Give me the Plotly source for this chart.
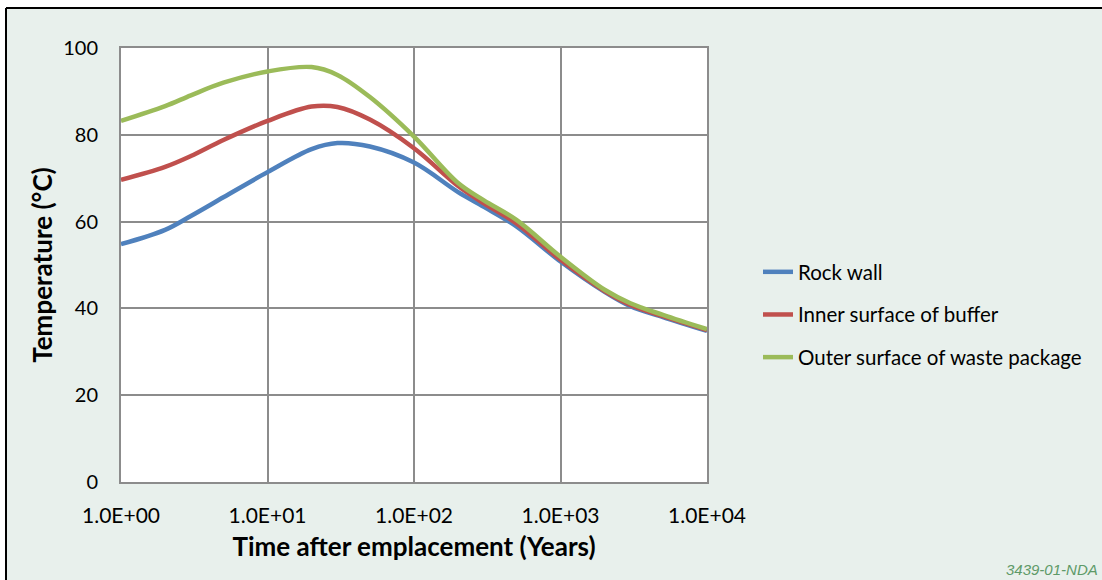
import plotly.graph_objects as go

# Data
time_years = [1, 2, 3, 5, 10, 20, 30, 50, 100, 200, 300, 500, 1000, 2000, 3000, 5000, 10000]
rock_wall = [54.8, 58.1, 61.3, 65.6, 71.4, 76.7, 78.1, 77.3, 73.6, 66.8, 63.4, 58.9, 50.8, 43.8, 40.5, 38.0, 34.8]
inner_buffer = [69.6, 72.6, 75.1, 78.8, 83.2, 86.5, 86.4, 83.5, 76.9, 68.2, 64.2, 59.6, 51.2, 44.0, 40.8, 38.2, 35.0]
outer_package = [83.2, 86.6, 89.1, 92.0, 94.6, 95.6, 93.8, 88.7, 79.6, 68.9, 64.9, 60.4, 51.9, 44.3, 41.2, 38.5, 35.2]

series_names = ["Rock wall", "Inner surface of buffer", "Outer surface of waste package"]
series_colors = ["#4F81BD", "#C0504D", "#9BBB59"]

x_tickvals = [1, 10, 100, 1000, 10000]
x_ticktext = ["1.0E+00", "1.0E+01", "1.0E+02", "1.0E+03", "1.0E+04"]
y_tickvals = [0, 20, 40, 60, 80, 100]

FONT = "Lato, Carlito, Calibri, sans-serif"
W, H = 1102, 580
L, R, T, B = 121, 395, 48, 98
pw, ph = W - L - R, H - T - B

fig = go.Figure()
for name, vals, col in zip(series_names, [rock_wall, inner_buffer, outer_package], series_colors):
    fig.add_trace(go.Scatter(
        x=time_years, y=vals, name=name, mode="lines",
        line=dict(color=col, width=4.5, shape="spline", smoothing=1.0),
        legendgroup=name,
    ))

def px_x(p):
    return (p - L) / pw

def px_y(p):
    return (H - B - p) / ph

shapes = [
    dict(type="rect", xref="paper", yref="paper", x0=px_x(-20), x1=px_x(6), y0=px_y(620), y1=px_y(-20),
         fillcolor="white", line=dict(width=0), layer="below"),
    dict(type="rect", xref="paper", yref="paper", x0=px_x(-20), x1=px_x(1130), y0=px_y(8), y1=px_y(-20),
         fillcolor="white", line=dict(width=0), layer="below"),
    dict(type="line", xref="paper", yref="paper", x0=px_x(6), x1=px_x(6), y0=px_y(8), y1=px_y(620),
         line=dict(color="black", width=2), layer="below"),
    dict(type="line", xref="paper", yref="paper", x0=px_x(6), x1=px_x(1130), y0=px_y(8), y1=px_y(8),
         line=dict(color="black", width=2), layer="below"),
]

fig.update_layout(
    width=W, height=H,
    margin=dict(l=L, r=R, t=T, b=B),
    paper_bgcolor="#E8F0EC",
    plot_bgcolor="white",
    font=dict(family=FONT, size=20, color="black"),
    shapes=shapes,
    showlegend=True,
    legend=dict(
        x=px_x(758), y=px_y(252), xanchor="left", yanchor="top",
        bgcolor="rgba(0,0,0,0)", font=dict(family=FONT, size=20.5, color="black"),
        tracegroupgap=13, itemwidth=30,
    ),
    annotations=[
        dict(text="<i>3439-01-NDA</i>", xref="paper", yref="paper", x=px_x(1100), y=px_y(569),
             xanchor="right", yanchor="middle", showarrow=False,
             font=dict(family="Liberation Sans, Arial, sans-serif", size=15, color="#5E9A68")),
    ],
)

fig.update_xaxes(
    type="log", range=[0, 4],
    tickvals=x_tickvals, ticktext=x_ticktext,
    showgrid=True, gridcolor="#8C8C8C", gridwidth=2,
    showline=True, linecolor="#8C8C8C", linewidth=2, mirror=True,
    ticks="", ticklabelstandoff=14,
    tickfont=dict(family=FONT, size=21),
    title=dict(text="<b>Time after emplacement (Years)</b>", font=dict(family=FONT, size=26), standoff=12),
    zeroline=False,
)
fig.update_yaxes(
    range=[0, 100], tickvals=y_tickvals,
    showgrid=True, gridcolor="#8C8C8C", gridwidth=2,
    showline=True, linecolor="#8C8C8C", linewidth=2, mirror=True,
    ticks="", ticklabelstandoff=17,
    tickfont=dict(family=FONT, size=20),
    title=dict(text="<b>Temperature (°C)</b>", font=dict(family=FONT, size=26), standoff=3),
    zeroline=False,
)

fig.write_html("out.html")
